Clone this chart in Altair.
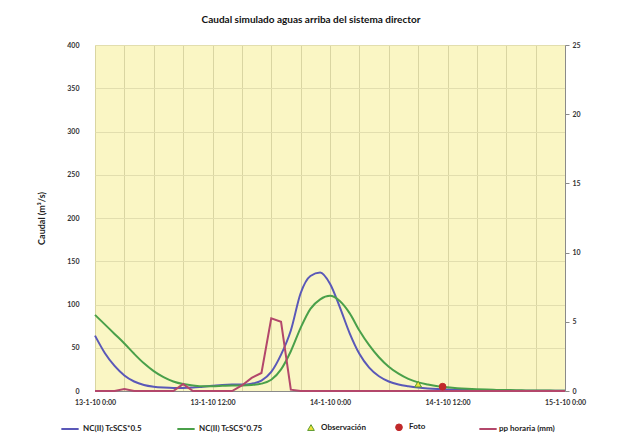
import altair as alt
import pandas as pd

# ---------------- data ----------------
HOURS = list(range(0, 49))  # hours since 13-1-10 0:00

Q_05 = [64, 44, 29, 18, 11, 7, 5, 4, 3.5, 3.5, 4, 5, 6, 7, 7.5, 7.5, 8.5, 12, 22, 42,
        70, 113, 133, 137, 124, 97, 67, 43, 27, 17, 11, 7.5, 5.5, 4, 3, 2.3, 1.8, 1.4,
        1.1, 0.9, 0.7, 0.6, 0.5, 0.4, 0.3, 0.3, 0.2, 0.2, 0.2]

Q_075 = [88, 77, 66, 55, 43, 32, 23, 16, 11, 8, 6.5, 5.5, 5.5, 6, 6.5, 6.5, 7, 8.5, 13, 25,
         46, 73, 95, 106, 110, 104, 90, 70, 53, 39, 28, 20, 14, 10, 7.5, 5.5, 4.2, 3.2,
         2.5, 2, 1.6, 1.3, 1.1, 0.9, 0.7, 0.6, 0.5, 0.4, 0.3]

PP = [0, 0, 0, 0.15, 0, 0, 0, 0, 0, 0.5, 0, 0, 0, 0, 0, 0.4, 0.95, 1.3, 5.25, 5.0,
      0.1] + [0] * 28

POINT_H = [33, 35.5]      # Observación, Foto
POINT_Q = [8, 5]

SERIES = ["NC(II) TcSCS*0.5", "NC(II) TcSCS*0.75", "Observación", "Foto", "pp horaria (mm)"]
COLORS = ["#5a58b8", "#4aa04a", "#5c9a2e", "#c0282a", "#b3476b"]
POINT_FILLS = ["#ece23a", "#c0282a"]
POINT_SHAPES = ["triangle-up", "circle"]

TICK_LABELS = ["13-1-10 0:00", "13-1-10 12:00", "14-1-10 0:00", "14-1-10 12:00", "15-1-10 0:00"]

TITLE = "Caudal simulado aguas arriba del sistema director"
YTITLE = "Caudal (m³/s)"

FONT = "Lato"

# ---------------- tables ----------------
flows = pd.DataFrame({
    "h": HOURS * 2,
    "q": Q_05 + Q_075,
    "serie": [SERIES[0]] * len(HOURS) + [SERIES[1]] * len(HOURS),
})
pp = pd.DataFrame({"h": HOURS, "pp": PP, "serie": SERIES[4]})
pts = pd.DataFrame({"h": POINT_H, "q": POINT_Q, "serie": SERIES[2:4]})

label_arr = "[" + ",".join("'%s'" % t for t in TICK_LABELS) + "]"
label_expr = "datum.value % 12 == 0 ? " + label_arr + "[datum.value / 12] : ''"

xscale = alt.Scale(domain=[0, 48], nice=False, zero=False)
xaxis = alt.Axis(values=list(range(0, 49, 3)), labelExpr=label_expr, title=None,
                 grid=True, ticks=False, labelFlush=False, labelPadding=7,
                 labelFontSize=7, labelFontWeight="bold", labelColor="#333",
                 labelFont=FONT, domainColor="#8a8a8a", gridColor="#d9d5a2",
                 labelOverlap=False)
X = alt.X("h:Q", scale=xscale, axis=xaxis)

yscale = alt.Scale(domain=[0, 400], nice=False)
yaxis = alt.Axis(values=list(range(0, 401, 50)), title=YTITLE, grid=True, ticks=False,
                 domain=False, labelPadding=16, labelFontSize=7, labelFontWeight="bold",
                 labelColor="#333", labelFont=FONT, titleFont=FONT, titleFontSize=9,
                 titleFontWeight="bold", titleColor="#222", titlePadding=20,
                 gridColor="#e2deae")

LEG = dict(orient="none", direction="horizontal", title=None,
           labelFont=FONT, labelFontSize=8, labelFontWeight="bold", labelColor="#222")

line_legend = dict(symbolType="stroke", symbolSize=300, symbolStrokeWidth=2, legendY=374)

flow_layer = alt.Chart(flows).mark_line(strokeWidth=2, interpolate="monotone").encode(
    x=X, y=alt.Y("q:Q", scale=yscale, axis=yaxis),
    color=alt.Color("serie:N", scale=alt.Scale(domain=SERIES[:2], range=COLORS[:2]),
                    legend=alt.Legend(legendX=-35, columnPadding=31, columns=2,
                                      labelOffset=3, **line_legend, **LEG)),
)

pp_layer = alt.Chart(pp).mark_line(strokeWidth=2).encode(
    x=X,
    y=alt.Y("pp:Q", scale=alt.Scale(domain=[0, 25], nice=False),
            axis=alt.Axis(orient="right", values=list(range(0, 26, 5)), title=None,
                          grid=False, ticks=True, tickSize=4, tickColor="#8a8a8a",
                          domain=True, domainColor="#8a8a8a", labelPadding=3,
                          labelFontSize=7, labelFontWeight="bold", labelColor="#333",
                          labelFont=FONT)),
    color=alt.Color("serie:N", scale=alt.Scale(domain=SERIES[4:], range=COLORS[4:]),
                    legend=alt.Legend(legendX=383, labelOffset=1, **line_legend, **LEG)),
)

pt_legend = alt.Legend(legendX=212, legendY=378, columnPadding=27, columns=2, symbolSize=45,
                       symbolStrokeWidth=1, labelOffset=6, **LEG)
pts_layer = alt.Chart(pts).mark_point(filled=True, size=45, opacity=1, strokeWidth=1).encode(
    x=X, y=alt.Y("q:Q", scale=yscale, axis=None),
    shape=alt.Shape("serie:N", scale=alt.Scale(domain=SERIES[2:4], range=POINT_SHAPES),
                    legend=pt_legend),
    fill=alt.Fill("serie:N", scale=alt.Scale(domain=SERIES[2:4], range=POINT_FILLS),
                  legend=pt_legend),
    stroke=alt.Stroke("serie:N", scale=alt.Scale(domain=SERIES[2:4], range=COLORS[2:4]),
                      legend=pt_legend),
)

chart = alt.layer(flow_layer, pp_layer, pts_layer).resolve_scale(
    y="independent", color="independent"
).properties(
    width=470, height=346,
    title=alt.TitleParams(TITLE, anchor="middle", dx=-19, fontSize=10, fontWeight="bold",
                          font=FONT, color="#111", offset=16),
    autosize=alt.AutoSizeParams(type="none"),
    padding={"left": 87, "top": 37, "right": 46, "bottom": 44},
    background="white",
).configure_view(fill="#faf6c4", stroke=None)

chart.save("out.html", embed_options={"renderer": "svg", "actions": False})
